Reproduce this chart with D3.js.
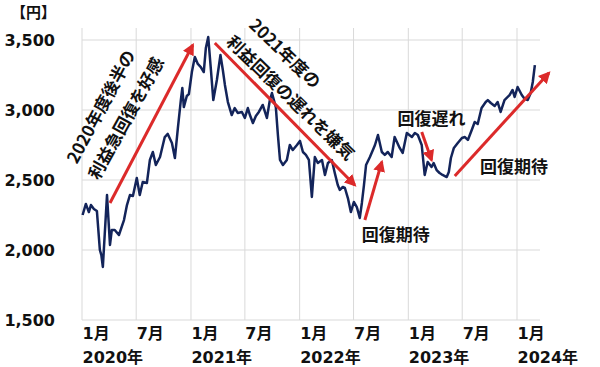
<!DOCTYPE html>
<html>
<head>
<meta charset="utf-8">
<script src="https://cdn.jsdelivr.net/npm/d3@7"></script>
<style>
  body { margin: 0; background: #fff; }
  svg { display: block; }
  .tick text { font-family: "DejaVu Sans", "Noto Sans CJK JP", sans-serif; font-weight: bold; fill: #111; }
  .note { font-family: "Noto Sans CJK JP", sans-serif; font-weight: bold; fill: #111; font-size: 17px; }
</style>
</head>
<body>
<svg id="chart"></svg>
<script>
// share price, yen
const dates = ["2020-01-03","2020-01-14","2020-01-24","2020-01-31","2020-02-10","2020-02-20","2020-03-01","2020-03-06","2020-03-11","2020-03-25","2020-04-04","2020-04-10","2020-04-20","2020-05-04","2020-05-21","2020-05-31","2020-06-10","2020-06-20","2020-07-03","2020-07-13","2020-07-23","2020-08-06","2020-08-16","2020-08-26","2020-09-05","2020-09-19","2020-10-05","2020-10-15","2020-10-29","2020-11-08","2020-11-18","2020-11-28","2020-12-03","2020-12-08","2020-12-18","2020-12-25",
  "2021-01-04","2021-01-14","2021-01-24","2021-02-03","2021-02-13","2021-02-20","2021-02-28","2021-03-09","2021-03-17","2021-03-29","2021-04-10","2021-04-18","2021-04-25","2021-05-05","2021-05-18","2021-05-28","2021-06-07","2021-06-21","2021-07-01","2021-07-11","2021-07-18","2021-07-28","2021-08-07","2021-08-17","2021-08-30","2021-09-13","2021-09-23","2021-09-30","2021-10-13","2021-10-20","2021-10-27","2021-11-06","2021-11-19","2021-11-29","2021-12-09","2021-12-23",
  "2022-01-02","2022-01-12","2022-01-22","2022-02-01","2022-02-11","2022-02-21","2022-03-03","2022-03-17","2022-03-27","2022-04-06","2022-04-19","2022-04-29","2022-05-09","2022-05-16","2022-05-26","2022-06-02","2022-06-12","2022-06-22","2022-07-02","2022-07-12","2022-07-22","2022-07-29","2022-08-05","2022-08-12","2022-08-25","2022-09-04","2022-09-11","2022-09-21","2022-10-04","2022-10-14","2022-10-24","2022-11-06","2022-11-16","2022-12-03","2022-12-13","2022-12-27",
  "2023-01-13","2023-01-23","2023-02-02","2023-02-15","2023-02-25","2023-03-07","2023-03-20","2023-03-27","2023-04-06","2023-04-16","2023-04-26","2023-05-10","2023-05-17","2023-05-24","2023-06-03","2023-06-16","2023-06-30","2023-07-10","2023-07-20","2023-08-02","2023-08-12","2023-08-22","2023-09-04","2023-09-18","2023-09-25","2023-10-05","2023-10-18","2023-10-28","2023-11-07","2023-11-20","2023-12-07","2023-12-17","2023-12-24",
  "2024-01-03","2024-01-17","2024-01-27","2024-02-06","2024-02-16","2024-02-23","2024-03-01"];
const prices = [2250,2329,2271,2321,2293,2279,2000,1964,1879,2393,2036,2143,2143,2107,2214,2321,2393,2386,2514,2393,2486,2479,2643,2700,2607,2664,2807,2829,2764,2657,2871,3071,3157,3021,3100,3114,
  3271,3379,3329,3307,3271,3443,3521,3286,3071,3214,3393,3286,3179,3057,2964,3014,2979,2986,2943,3014,2964,2907,2957,2986,3036,2943,3071,3121,3021,2821,2643,2607,2643,2750,2714,2750,
  2779,2700,2679,2643,2379,2664,2621,2643,2536,2621,2643,2550,2464,2429,2450,2443,2371,2271,2343,2307,2229,2336,2464,2607,2664,2714,2750,2821,2700,2679,2700,2664,2807,2729,2693,2836,
  2807,2836,2821,2750,2536,2629,2593,2621,2571,2550,2536,2521,2557,2657,2729,2764,2800,2807,2786,2857,2914,2900,3014,3057,3071,3050,3029,3057,2986,3071,3107,3143,3093,
  3164,3107,3079,3071,3121,3200,3321];

const yTicks = [1500, 2000, 2500, 3000, 3500];
const monthTicks = ["2020-01-01","2020-07-01","2021-01-01","2021-07-01","2022-01-01","2022-07-01","2023-01-01","2023-07-01","2024-01-01"];
const yearTicks = ["2020-01-01","2021-01-01","2022-01-01","2023-01-01","2024-01-01"];

// red arrows: [from date, from value, to date, to value]
const arrows = [
  ["2020-04-04", 2336, "2021-01-07", 3464],
  ["2021-03-22", 3479, "2022-07-05", 2464],
  ["2022-08-08", 2214, "2022-10-04", 2629],
  ["2023-02-15", 2843, "2023-03-20", 2643],
  ["2023-06-06", 2529, "2024-04-17", 3264]
];
// annotation texts: [centre date, centre value, angle, text]
const notes = [
  ["2020-03-01", 3029, -62, "2020年度後半の"],
  ["2020-05-24", 2946, -61, "利益急回復を好感"],
  ["2021-11-16", 3411, 44, "2021年度の"],
  ["2021-12-05", 3093, 44, "利益回復の遅れを嫌気"],
  ["2022-11-20", 2121, 0, "回復期待"],
  ["2023-03-20", 2943, 0, "回復遅れ"],
  ["2023-12-22", 2607, 0, "回復期待"]
];

const parse = d3.timeParse("%Y-%m-%d");
const data = dates.map((d, i) => ({date: parse(d), price: prices[i]}));

const W = 600, H = 367;
const plotLeft = 82, plotRight = 540, plotTop = 28;

const svg = d3.select("#chart").attr("width", W).attr("height", H);

const x = d3.scaleTime()
  .domain([parse("2020-01-01"), parse("2024-01-01")])
  .range([82, 517]);
const y = d3.scaleLinear()
  .domain([1500, 3500])
  .range([320, 40]);

// grid
svg.append("g").selectAll("line")
  .data(yTicks)
  .join("line")
    .attr("x1", plotLeft).attr("x2", plotRight)
    .attr("y1", d => y(d)).attr("y2", d => y(d))
    .attr("stroke", "#d9d9d9").attr("stroke-width", 1);
svg.append("g").selectAll("line")
  .data(monthTicks.map(parse))
  .join("line")
    .attr("x1", d => x(d)).attr("x2", d => x(d))
    .attr("y1", plotTop).attr("y2", y(1500))
    .attr("stroke", "#d9d9d9").attr("stroke-width", 1);

// axes
const yAxis = d3.axisLeft(y).tickValues(yTicks).tickSize(0).tickPadding(27).tickFormat(d3.format(","));
svg.append("g")
  .attr("transform", `translate(${plotLeft},0)`)
  .call(yAxis)
  .call(g => g.select(".domain").remove())
  .selectAll("text").attr("font-size", 16);

const mAxis = d3.axisBottom(x).tickValues(monthTicks.map(parse)).tickSize(0).tickPadding(8)
  .tickFormat(d => (d.getMonth() + 1) + "月");
svg.append("g")
  .attr("transform", `translate(0,${y(1500)})`)
  .call(mAxis)
  .call(g => g.select(".domain").remove())
  .selectAll("text").attr("font-size", 16).attr("text-anchor", "start");

const yrAxis = d3.axisBottom(x).tickValues(yearTicks.map(parse)).tickSize(0).tickPadding(32)
  .tickFormat(d => d.getFullYear() + "年");
svg.append("g")
  .attr("transform", `translate(0,${y(1500)})`)
  .call(yrAxis)
  .call(g => g.select(".domain").remove())
  .selectAll("text").attr("font-size", 16).attr("text-anchor", "start");

svg.append("text")
  .attr("x", 11).attr("y", 18)
  .attr("font-family", "'Noto Sans CJK JP', sans-serif")
  .attr("font-weight", "bold").attr("font-size", 15).attr("fill", "#111")
  .text("【円】");

// price line
const line = d3.line().x(d => x(d.date)).y(d => y(d.price));
svg.append("path")
  .datum(data)
  .attr("d", line)
  .attr("fill", "none")
  .attr("stroke", "#13245a")
  .attr("stroke-width", 2.5)
  .attr("stroke-linejoin", "round");

// arrows
const red = "#dc2a2a";
svg.append("defs").append("marker")
  .attr("id", "head")
  .attr("viewBox", "0 0 10 10")
  .attr("refX", 8).attr("refY", 5)
  .attr("markerUnits", "userSpaceOnUse")
  .attr("markerWidth", 12).attr("markerHeight", 12)
  .attr("orient", "auto")
  .append("path")
    .attr("d", "M0,0 L10,5 L0,10 Z")
    .attr("fill", red);

svg.append("g").selectAll("line")
  .data(arrows)
  .join("line")
    .attr("x1", d => x(parse(d[0]))).attr("y1", d => y(d[1]))
    .attr("x2", d => x(parse(d[2]))).attr("y2", d => y(d[3]))
    .attr("stroke", red).attr("stroke-width", 3)
    .attr("marker-end", "url(#head)");

// notes
svg.append("g").selectAll("text")
  .data(notes)
  .join("text")
    .attr("class", "note")
    .attr("transform", d => `translate(${x(parse(d[0]))},${y(d[1])}) rotate(${d[2]})`)
    .attr("text-anchor", "middle")
    .attr("dominant-baseline", "central")
    .text(d => d[3]);
</script>
</body>
</html>
